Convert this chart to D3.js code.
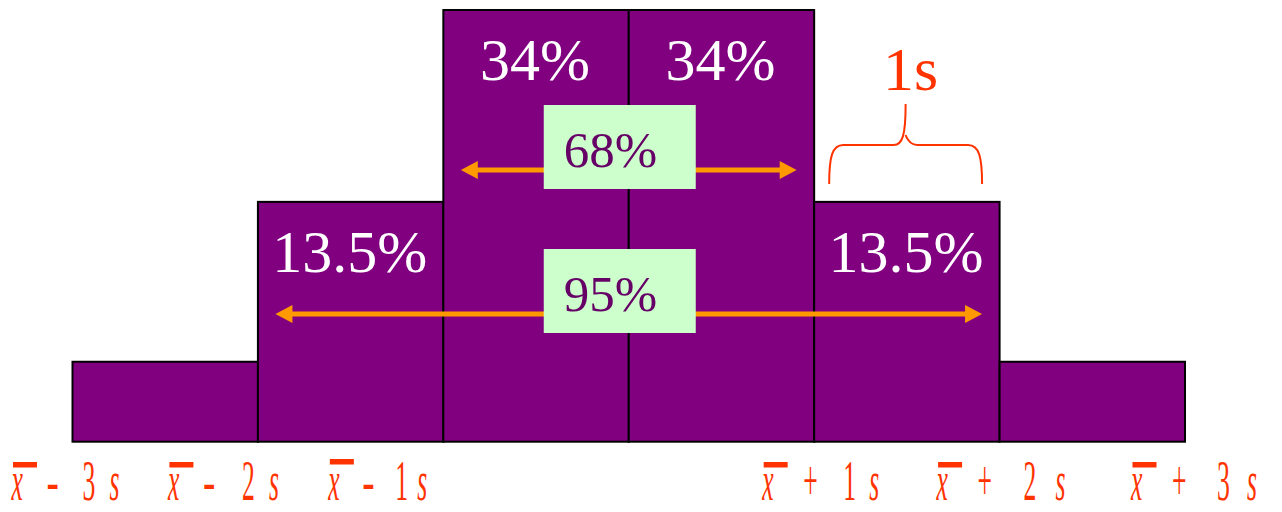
<!DOCTYPE html>
<html><head><meta charset="utf-8">
<script src="https://cdn.jsdelivr.net/npm/d3@7"></script>
<style>body{margin:0;background:#fff} svg{display:block}</style>
</head><body>
<svg id="c" width="1282" height="512"></svg>
<script>
// ---- data ----
const categories = ["-3s..-2s", "-2s..-1s", "-1s..mean", "mean..+1s", "+1s..+2s", "+2s..+3s"];
const barHeights = [1, 3, 5.4, 5.4, 3, 1];           // relative drawn heights
const barLabels = ["", "13.5%", "34%", "34%", "13.5%", ""];
const spanLabels = ["68%", "95%"];
const spanFrom = [2, 1];                              // first band index covered
const spanTo = [3, 4];                                // last band index covered
const tickSigns = ["-", "-", "-", "+", "+", "+"];
const tickMultipliers = ["3", "2", "1", "1", "2", "3"];
const braceLabel = "1s";
const braceBand = 4;

// ---- layout / style ----
const PURPLE = "#800080", RED = "#FF3300", ORANGE = "#FF9900", GREEN = "#CCFFCC", DARK = "#660066";
const SERIF = "'Liberation Serif','Times New Roman',serif";
const svg = d3.select("#c");

const x = d3.scaleBand().domain(categories).range([72.5, 1185]).padding(0);
const y = d3.scaleLinear().domain([0, d3.max(barHeights)]).range([441.7, 10]);
const bw = x.bandwidth();

// bars
svg.append("g").selectAll("rect").data(categories).join("rect")
  .attr("x", d => x(d)).attr("y", (d, i) => y(barHeights[i]))
  .attr("width", bw).attr("height", (d, i) => y(0) - y(barHeights[i]))
  .attr("fill", PURPLE).attr("stroke", "#000").attr("stroke-width", 2);

// bar labels
svg.append("g").selectAll("text").data(categories).join("text")
  .attr("x", d => x(d) + bw / 2 - 1).attr("y", (d, i) => y(barHeights[i]) + 70)
  .attr("text-anchor", "middle").attr("fill", "#fff")
  .attr("font-family", SERIF).attr("font-size", 60)
  .text((d, i) => barLabels[i]);

// span arrows with boxes
const spanY = [170, 314];
spanLabels.forEach((lab, k) => {
  const g = svg.append("g");
  const x1 = x(categories[spanFrom[k]]) + 17.5;
  const x2 = x(categories[spanTo[k]]) + bw - 17.5;
  const yy = spanY[k];
  const head = 17, hw = 9;
  g.append("line").attr("x1", x1 + head - 2).attr("x2", x2 - head + 2)
    .attr("y1", yy).attr("y2", yy).attr("stroke", ORANGE).attr("stroke-width", 5);
  g.append("path").attr("d", `M${x1},${yy} L${x1 + head},${yy - hw} L${x1 + head},${yy + hw} Z`).attr("fill", ORANGE);
  g.append("path").attr("d", `M${x2},${yy} L${x2 - head},${yy - hw} L${x2 - head},${yy + hw} Z`).attr("fill", ORANGE);
  const cx = x(categories[3]);
  const bx = cx - 85, by = yy - 65;
  g.append("rect").attr("x", bx).attr("y", by).attr("width", 152).attr("height", 84).attr("fill", GREEN);
  g.append("text").attr("x", bx + 20).attr("y", by + 62)
    .attr("fill", DARK).attr("font-family", SERIF).attr("font-size", 51).text(lab);
});

// brace over one band
{
  const L = x(categories[braceBand]) + 15, R = x(categories[braceBand]) + bw - 17.5;
  const M = (L + R) / 2, yb = 184, yh = 145, yt = 104;
  const d = `M${L},${yb} C${L},${yh + 12} ${L + 3},${yh} ${L + 14},${yh} L${M - 12},${yh} C${M - 3},${yh} ${M},${yh - 10} ${M},${yt}` +
            ` M${M},${yh - 10} C${M},${yh - 10} ${M + 3},${yh} ${M + 12},${yh} L${R - 14},${yh} C${R - 3},${yh} ${R},${yh + 12} ${R},${yb}`;
  svg.append("path").attr("d", d).attr("fill", "none").attr("stroke", RED).attr("stroke-width", 2);
  svg.append("text").attr("x", M + 5).attr("y", 90).attr("text-anchor", "middle")
    .attr("fill", RED).attr("font-family", SERIF).attr("font-size", 62).text(braceLabel);
}

// bottom tick labels  (x̄ ± k s)
const tickEdges = tickSigns.map((s, i) => i < 3 ? x(categories[i]) : x(categories[i]) + bw);
const tickNudge = [-61, -90, -115, -52, -63, -54];
const signOffs = [36, 36, 35, 42, 42, 42];
const digitOffs = [72, 75, 68, 82, 88, 87];
const sOffs = [98, 101, 89, 107, 119, 116];
const sx = 0.45, base = 500, fs = 57;
tickSigns.forEach((sign, i) => {
  const x0 = tickEdges[i] + tickNudge[i];
  const offs = [0, signOffs[i], digitOffs[i], sOffs[i]];
  const g = svg.append("g").attr("fill", RED).attr("font-family", SERIF).attr("font-size", fs);
  g.append("rect").attr("x", x0 + 1.5).attr("y", i === 2 ? 459 : 462).attr("width", 24).attr("height", 5.5);
  const glyphs = [["x", true], [sign, false], [tickMultipliers[i], false], ["s", true]];
  glyphs.forEach(([t, it], j) => {
    const scl = (sign === "-" && j === 1) ? 0.65 : sx;
    g.append("text").attr("transform", `translate(${x0 + offs[j] - (it ? 0 : 1)},${base}) scale(${scl},1)`)
      .attr("font-style", it ? "italic" : "normal").text(t);
  });
});
</script>
</body></html>
